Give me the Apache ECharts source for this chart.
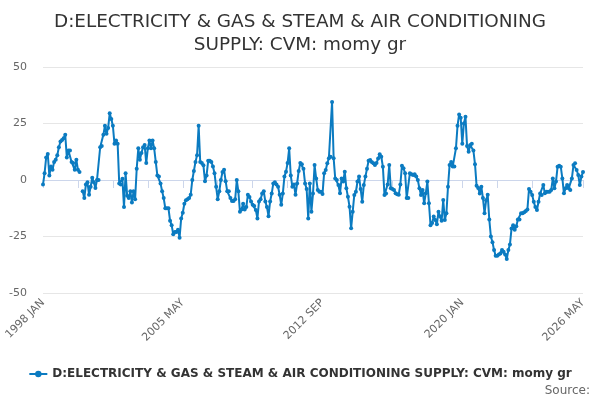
<!DOCTYPE html>
<html lang="en">
  <head>
    <meta charset="UTF-8" />
    <script src="https://cdn.jsdelivr.net/npm/echarts@6/dist/echarts.min.js"></script>
    <title>D:ELECTRICITY &amp; GAS &amp; STEAM &amp; AIR CONDITIONING SUPPLY: CVM: momy gr</title>
    <style>
      body { margin: 0; }
      #container { width: 600px; height: 400px; }
    </style>
  </head>
  <body>
    <div id="container"></div>
    <script>
      const seriesName = "D:ELECTRICITY & GAS & STEAM & AIR CONDITIONING SUPPLY: CVM: momy gr";
      const monthNames = ["JAN", "FEB", "MAR", "APR", "MAY", "JUN", "JUL", "AUG", "SEP", "OCT", "NOV", "DEC"];
      const startYear = 1998;
      const monthCount = 341; // 1998 JAN .. 2026 MAY

      // month-on-month growth (null = missing month)
      const momyGr = [
        -2, 3, 10, 11.5, 2, 6, 4.5, 8, 9, 11, 14.5, 17,
        17.7, 18.5, 20, 10, 13, 13, 8, 7.5, 4.5, 9, 4.5, 3.5,
        null, -5, -8, -2, -1, -6.5, -3, 1, -1, -3.5, 0, 0,
        14.5, 15, 20, 24, 20.5, 23, 29.5, 27, 24, 16, 17.5, 16,
        -1.5, -2, 0.5, -12, 3, -7, -8, -5, -10, -5, -8.5, 5,
        14, 9, 12, 14.5, 15.5, 7.5, 14, 17.5, 14, 17.5, 14, 8,
        2, 1.5, -1.5, -5, -8, -12.5, -12.5, -12.5, -18, -20, -24, -23,
        -23, -22, -25.5, -17, -14.5, -10.5, -9, -8.5, -8, -6.5, 0, 4,
        8, 11, 24, 8, 7.5, 6.5, -0.5, 2, 8.5, 8.5, 8, 6,
        3, -3, -8.5, -5, 0, 3.5, 4.5, -0.5, -5, -5, -8, -9.3,
        -9.3, -8.5, 0, -5, -14, -13, -10.5, -13, -12, -6.5, -7.5, -9.5,
        -11, -11.5, -13.3, -17, -9.5, -8.5, -6, -5, -9.5, -12, -16, -9.5,
        -6, -1.5, -1, -2, -3, -6.5, -11, -6, 1.5, 3.7, 7.5, 14,
        2, -3, -2, -6.5, -1.5, 4, 7.5, 7, 5, -1.5, -4, -17,
        -1.5, -14, -6, 6.6, 0.7, -4.4, -5.2, -5.2, -6.2, 3, 4.4, 7.4,
        9.6, 10.3, 34.5, 9.6, 0.7, 0, -2.2, -5.9, 0.7, -0.7, 3.7, -3.7,
        -7.4, -11.8, -21.4, -14, -6.6, -5.2, -0.7, 1.5, -4, -9.6, -2.2, 1.5,
        5, 8.5, 8.8, 8, 7.4, 6.6, 7.5, 9.5, 11.4, 10.3, 5.9, -6.6,
        -6, -2, 6.6, -3.7, -4, -4.4, -5.9, -6.3, -6.5, -2, 6.3, 5.2,
        3, -8, -8, 3, 2.5, 2.2, 2.5, 1.5, 0, -3.7, -6.6, -4.4,
        -10.3, -5.9, -0.7, -10.3, -20, -19, -16.2, -17.7, -19.6, -14, -16.2, -18,
        -8.8, -17.7, -14.7, -3, 6.6, 8, 6, 6, 14, 24, 29, 27.5,
        16, 25, 28, 15, 12.5, 15.5, 16, 13, 7, -2.5, -3.5, -6,
        -3, -8, -14.7, -9, -6.5, -17.5, -25, -27.5, -31, -33.5, -33.5, -33,
        -32.5, -31, -31.7, -33, -35, -31, -28.5, -21.5, -20, -22, -20.5, -17.5,
        -17.5, -14.7, -14.7, -14.3, -13.7, -13, -4, -5.2, -6.6, -9.6, -12, -13.3,
        -9.6, -6, -6.6, -2.2, -5.9, -5.2, -5.2, -5.2, -4.4, 0.7, -3.7, -0.7,
        5.9, 6.3, 5.9, 0.7, -5.9, -3.7, -2.2, -3.7, -4.4, 0.7, 6.6, 7.4,
        4.4, 2.2, -2.2, 1.5, 3.5
      ];

      const months = [];
      for (let k = 0; k < monthCount; k++) {
        months.push((startYear + Math.floor(k / 12)) + " " + monthNames[k % 12]);
      }

      const lastIdx = monthCount - 1;
      const lineColor = "#0b7bc1";

      const chart = echarts.init(document.getElementById("container"), null, { renderer: "canvas" });

      const option = {
        animation: false,
        textStyle: { fontFamily: "DejaVu Sans" },
        title: {
          text: "D:ELECTRICITY & GAS & STEAM & AIR CONDITIONING\nSUPPLY: CVM: momy gr",
          left: "center",
          top: 6,
          textStyle: {
            fontFamily: "DejaVu Sans",
            fontSize: 18.4,
            fontWeight: "normal",
            color: "#333333",
            lineHeight: 23,
          },
        },
        grid: { left: 43, right: 17, top: 67, bottom: 107 },
        legend: {
          bottom: 15,
          left: "center",
          itemWidth: 18,
          itemHeight: 8,
          itemGap: 6,
          textStyle: { fontFamily: "DejaVu Sans", fontSize: 12, fontWeight: "bold", color: "#333333" },
          data: [seriesName],
        },
        graphic: [
          {
            type: "text",
            right: 10,
            bottom: 3,
            style: { text: "Source:", fill: "#666666", font: "12px 'DejaVu Sans'" },
          },
        ],
        xAxis: {
          type: "category",
          data: months,
          boundaryGap: false,
          axisLine: { lineStyle: { color: "#ccd6eb" } },
          axisTick: {
            length: 8,
            lineStyle: { color: "#ccd6eb" },
            interval: function (idx) {
              return (idx % 22 === 0 && idx <= 308) || idx === lastIdx;
            },
          },
          axisLabel: {
            rotate: 45,
            color: "#666666",
            fontSize: 11,
            margin: 8,
            interval: function (idx) {
              return idx % 88 === 0 || idx === lastIdx;
            },
          },
          splitLine: { show: false },
        },
        yAxis: {
          type: "value",
          min: -50,
          max: 50,
          interval: 25,
          axisLine: { show: false },
          axisTick: { show: false },
          axisLabel: { color: "#666666", fontSize: 11, margin: 16 },
          splitLine: { lineStyle: { color: "#e6e6e6" } },
        },
        series: [
          {
            name: seriesName,
            type: "line",
            data: momyGr,
            connectNulls: false,
            showAllSymbol: true,
            symbol: "circle",
            symbolSize: 4,
            itemStyle: { color: lineColor },
            lineStyle: { color: lineColor, width: 2 },
          },
        ],
      };

      chart.setOption(option);
    </script>
  </body>
</html>
